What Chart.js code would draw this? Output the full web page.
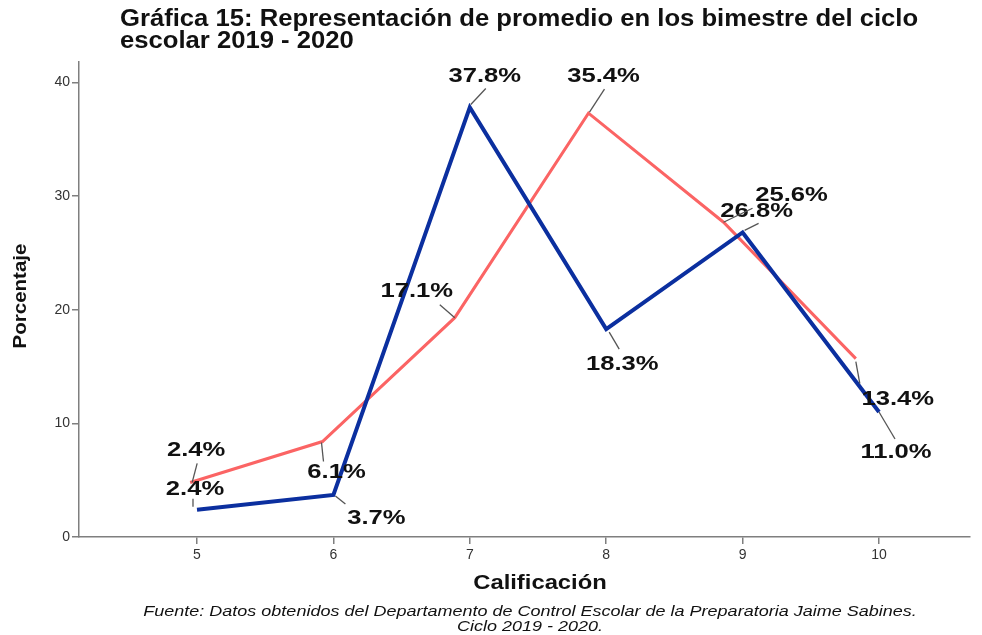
<!DOCTYPE html>
<html>
<head>
<meta charset="utf-8">
<script src="https://cdn.jsdelivr.net/npm/chart.js@4.4.0/dist/chart.umd.min.js"></script>
<style>
    html, body { margin: 0; padding: 0; background: #fff; }
</style>
</head>
<body>
<canvas id="promedioChart" width="982" height="635"></canvas>
<script>
// datos
var calificacion = [5, 6, 7, 8, 9, 10];
var bimestreAzul = [2.4, 3.7, 37.8, 18.3, 26.8, 11.0];
var bimestreRojoX = [4.95, 5.92, 6.89, 7.87, 8.86, 9.83];
var bimestreRojo = [4.8, 8.4, 19.3, 37.3, 27.7, 15.7];
var etiquetasAzul = ['2.4%', '3.7%', '37.8%', '18.3%', '26.8%', '11.0%'];
var etiquetasRojo = ['2.4%', '6.1%', '17.1%', '35.4%', '25.6%', '13.4%'];
var yTicks = [0, 10, 20, 30, 40];

// [dx texto, dy texto, x1, y1, x2, y2] relativo al punto
const posAzul = [
    [-2, -21, -4, -11, -4, -3],
    [43, 23, 2, 1, 12, 9],
    [15, -31, 1, -3, 16, -19],
    [16, 35, 3, 3, 13, 20],
    [14, -21, 2, -2, 16, -9],
    [17, 40, 0, 0, 16, 27]
];
const posRojo = [
    [6, -32, 2, 0, 7, -19],
    [14, 31, -1, 1, 1, 20],
    [-38, -26, 0, 0, -15, -13],
    [15, -37, 1, -1, 16, -24],
    [68, -27, 0, 0, 29, -14],
    [42, 41, 0, 3, 4, 25]
];

function texto(ctx, t, x, y, font, sx, align, color) {
    ctx.save();
    ctx.translate(x, y);
    ctx.scale(sx, 1);
    ctx.font = font;
    ctx.fillStyle = color || '#111';
    ctx.textAlign = align;
    ctx.textBaseline = 'middle';
    ctx.fillText(t, 0, 0);
    ctx.restore();
}

const textosPlugin = {
    id: 'textos',
    afterDraw(chart) {
        const ctx = chart.ctx;
        const f = "'Liberation Sans', Arial, sans-serif";

        texto(ctx, 'Gráfica 15: Representación de promedio en los bimestre del ciclo', 120, 20, 'bold 23px ' + f, 1.115, 'left');
        texto(ctx, 'escolar 2019 - 2020', 120, 42, 'bold 23px ' + f, 1.115, 'left');

        texto(ctx, 'Calificación', 540, 583, 'bold 20px ' + f, 1.19, 'center');
        texto(ctx, 'Fuente: Datos obtenidos del Departamento de Control Escolar de la Preparatoria Jaime Sabines.', 530, 612, 'italic 15px ' + f, 1.2, 'center');
        texto(ctx, 'Ciclo 2019 - 2020.', 530, 627, 'italic 15px ' + f, 1.2, 'center');

        ctx.save();
        ctx.translate(21, 296);
        ctx.rotate(-Math.PI / 2);
        texto(ctx, 'Porcentaje', 0, 0, 'bold 18px ' + f, 1.14, 'center');
        ctx.restore();

        const grupos = [[0, etiquetasAzul, posAzul], [1, etiquetasRojo, posRojo]];
        grupos.forEach(function (g) {
            const meta = chart.getDatasetMeta(g[0]);
            meta.data.forEach(function (pt, i) {
                const p = g[2][i];
                ctx.save();
                ctx.strokeStyle = '#555';
                ctx.lineWidth = 1.3;
                ctx.beginPath();
                ctx.moveTo(pt.x + p[2], pt.y + p[3]);
                ctx.lineTo(pt.x + p[4], pt.y + p[5]);
                ctx.stroke();
                ctx.restore();
                texto(ctx, g[1][i], pt.x + p[0], pt.y + p[1], 'bold 21px ' + f, 1.22, 'center');
            });
        });
    }
};

const promedioData = {
    datasets: [{
            label: 'Bimestre 1',
            data: calificacion.map((c, i) => ({ x: c, y: bimestreAzul[i] })),
            borderColor: '#0b2f9f',
            borderWidth: 4,
            pointRadius: 0,
            tension: 0
        },
        {
            label: 'Bimestre 2',
            data: bimestreRojoX.map((c, i) => ({ x: c, y: bimestreRojo[i] })),
            borderColor: '#fb6464',
            borderWidth: 3,
            pointRadius: 0,
            tension: 0
        }
    ]
};

const ejeComun = {
    border: { color: '#7f7f7f', width: 1.5 },
    grid: { drawOnChartArea: false, drawTicks: true, tickLength: 7, color: '#7f7f7f', lineWidth: 1.5 },
};

const promedioConfig = {
    type: 'line',
    data: promedioData,
    options: {
        responsive: false,
        devicePixelRatio: 1,
        animation: false,
        layout: { padding: { top: 62, right: 12, left: 0, bottom: 0 } },
        plugins: {
            legend: { display: false },
            tooltip: { enabled: false }
        },
        scales: {
            x: Object.assign({}, ejeComun, {
                type: 'linear',
                min: 4.135,
                max: 10.667,
                afterBuildTicks: s => { s.ticks = calificacion.map(v => ({ value: v })); },
                afterFit: s => { s.height = 98; },
                ticks: { color: '#333', padding: 3, font: { size: 14, family: "'Liberation Sans', Arial" } }
            }),
            y: Object.assign({}, ejeComun, {
                min: 0,
                max: 41.8,
                afterBuildTicks: s => { s.ticks = yTicks.map(v => ({ value: v })); },
                afterFit: s => { s.width = 79; },
                ticks: { color: '#333', padding: 2, font: { size: 14, family: "'Liberation Sans', Arial" } }
            })
        }
    },
    plugins: [textosPlugin]
};

const promedioChart = new Chart(
    document.getElementById('promedioChart'),
    promedioConfig
);
</script>
</body>
</html>
